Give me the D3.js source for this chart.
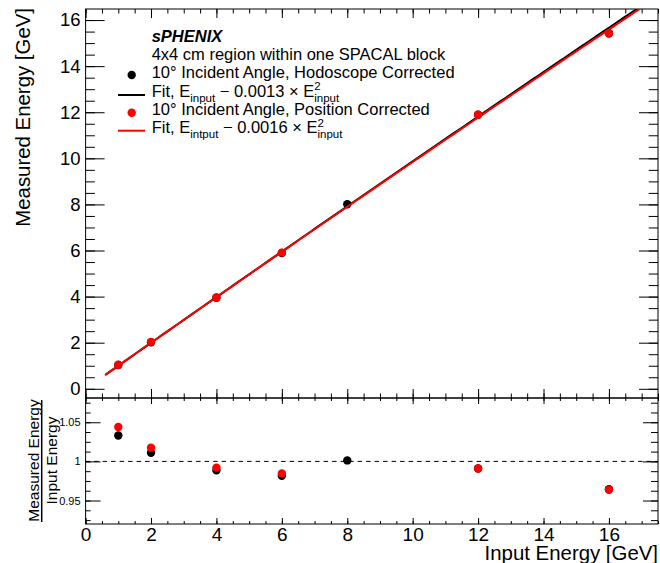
<!DOCTYPE html>
<html>
<head>
<meta charset="utf-8">
<script src="https://cdn.jsdelivr.net/npm/d3@7"></script>
<style>
  html, body { margin: 0; padding: 0; background: #fff; }
  svg { display: block; font-family: "Liberation Sans", Arial, Helvetica, sans-serif; }
  .axis .domain { display: none; }
  .axis line { stroke: #000; stroke-width: 1; }
  .legend text { white-space: pre; }
</style>
</head>
<body>
<svg id="chart" width="660" height="563"></svg>
<script>
// Beam energies and reconstructed energies (GeV)
const inputEnergyHodo = [1, 2, 4, 6, 8, 12, 16];
const measuredHodo    = [1.033, 2.022, 3.954, 5.890, 8.010, 11.89, 15.43];
const inputEnergyPos  = [1, 2, 4, 6, 12, 16];
const measuredPos     = [1.044, 2.035, 3.968, 5.908, 11.89, 15.42];

// Fit: E_input + c * E_input^2
const fitQuadHodo = -0.0013;
const fitQuadPos  = -0.0016;
const fitRange = [0.6, 17.5];

// Axis ticks
const xMajorTicks = [0, 2, 4, 6, 8, 10, 12, 14, 16];
const yMajorTicks = [0, 2, 4, 6, 8, 10, 12, 14, 16];
const ratioMajorTicks = [0.95, 1, 1.05];
const ratioTickLabels = ["0.95", "1", "1.05"];

const colHodo = "#000000";
const colPos  = "#ff0000";

const svg = d3.select("#chart");

// Frames
const L = 85.6, R = 658, T = 9, MID = 398, B = 524;

const x = d3.scaleLinear().domain([0, 17.5]).range([L, R]);
const y = d3.scaleLinear().domain([-0.4, 16.48]).range([MID, T]);
const yr = d3.scaleLinear().domain([0.92, 1.081]).range([B, MID]);

const xMinor = d3.range(0, 17.5 + 1e-9, 0.5);
const yMinor = d3.range(0, 16.48, 0.5);
const rMinor = d3.range(0.925, 1.081, 0.0125);

function axisGroup(axis, tx, ty, labelSize) {
  const g = svg.append("g").attr("class", "axis")
    .attr("transform", `translate(${tx},${ty})`).call(axis);
  g.selectAll("text").attr("font-size", labelSize || 0).attr("fill", "#000")
    .attr("font-family", "Liberation Sans, Arial, sans-serif");
  return g;
}

// ---- Upper panel axes ----
axisGroup(d3.axisLeft(y).tickValues(yMinor).tickSize(-9.3).tickFormat(""), L, 0);
axisGroup(d3.axisLeft(y).tickValues(yMajorTicks).tickSize(-19).tickPadding(5).tickFormat(d3.format("d")), L, 0, 18.5);
axisGroup(d3.axisRight(y).tickValues(yMinor).tickSize(-9.3).tickFormat(""), R, 0);
axisGroup(d3.axisRight(y).tickValues(yMajorTicks).tickSize(-19).tickFormat(""), R, 0);
axisGroup(d3.axisTop(x).tickValues(xMinor).tickSize(-4.5).tickFormat(""), 0, T);
axisGroup(d3.axisTop(x).tickValues(xMajorTicks).tickSize(-9).tickFormat(""), 0, T);
axisGroup(d3.axisBottom(x).tickValues(xMinor).tickSize(-4.5).tickFormat(""), 0, MID);
axisGroup(d3.axisBottom(x).tickValues(xMajorTicks).tickSize(-9).tickFormat(""), 0, MID);

// ---- Lower panel axes ----
axisGroup(d3.axisLeft(yr).tickValues(rMinor).tickSize(-5).tickFormat(""), L, 0);
axisGroup(d3.axisLeft(yr).tickValues(ratioMajorTicks).tickSize(-15).tickPadding(5)
  .tickFormat((d, i) => ratioTickLabels[i]), L, 0, 11);
axisGroup(d3.axisRight(yr).tickValues(rMinor).tickSize(-7).tickFormat(""), R, 0);
axisGroup(d3.axisRight(yr).tickValues(ratioMajorTicks).tickSize(-15).tickFormat(""), R, 0);
axisGroup(d3.axisTop(x).tickValues(xMinor).tickSize(-3).tickFormat(""), 0, MID);
axisGroup(d3.axisTop(x).tickValues(xMajorTicks).tickSize(-6).tickFormat(""), 0, MID);
axisGroup(d3.axisBottom(x).tickValues(xMinor).tickSize(-3).tickFormat(""), 0, B);
axisGroup(d3.axisBottom(x).tickValues(xMajorTicks).tickSize(-6).tickPadding(4).tickFormat(d3.format("d")), 0, B, 19);

// Frames
svg.append("rect").attr("x", L).attr("y", T).attr("width", R - L).attr("height", MID - T)
  .attr("fill", "none").attr("stroke", "#000").attr("stroke-width", 1);
svg.append("rect").attr("x", L).attr("y", MID).attr("width", R - L).attr("height", B - MID)
  .attr("fill", "none").attr("stroke", "#000").attr("stroke-width", 1);

// Clip for plotted curves
svg.append("clipPath").attr("id", "clipTop").append("rect")
  .attr("x", L).attr("y", T).attr("width", R - L).attr("height", MID - T);

const plotTop = svg.append("g").attr("clip-path", "url(#clipTop)");

function fitCurve(c) {
  const pts = d3.range(fitRange[0], fitRange[1] + 1e-9, 0.1).map(e => [e, e + c * e * e]);
  return d3.line().x(d => x(d[0])).y(d => y(d[1]))(pts);
}

// Hodoscope-corrected set
plotTop.selectAll("circle.hodo").data(inputEnergyHodo).join("circle")
  .attr("cx", d => x(d)).attr("cy", (d, i) => y(measuredHodo[i])).attr("r", 4.2).attr("fill", colHodo);
plotTop.append("path").attr("d", fitCurve(fitQuadHodo))
  .attr("fill", "none").attr("stroke", colHodo).attr("stroke-width", 2);

// Position-corrected set
plotTop.selectAll("circle.pos").data(inputEnergyPos).join("circle")
  .attr("cx", d => x(d)).attr("cy", (d, i) => y(measuredPos[i])).attr("r", 4.2).attr("fill", colPos);
plotTop.append("path").attr("d", fitCurve(fitQuadPos))
  .attr("fill", "none").attr("stroke", colPos).attr("stroke-width", 2);

// ---- Ratio panel ----
svg.append("line").attr("x1", L).attr("x2", R).attr("y1", yr(1)).attr("y2", yr(1))
  .attr("stroke", "#000").attr("stroke-width", 1).attr("stroke-dasharray", "4.5,4");

svg.append("g").selectAll("circle").data(inputEnergyHodo).join("circle")
  .attr("cx", d => x(d)).attr("cy", (d, i) => yr(measuredHodo[i] / d)).attr("r", 4.2).attr("fill", colHodo);
svg.append("g").selectAll("circle").data(inputEnergyPos).join("circle")
  .attr("cx", d => x(d)).attr("cy", (d, i) => yr(measuredPos[i] / d)).attr("r", 4.2).attr("fill", colPos);

// ---- Axis titles ----
svg.append("text").attr("transform", "translate(29.5,8) rotate(-90)")
  .attr("text-anchor", "end").attr("font-size", 20.4).text("Measured Energy [GeV]");
svg.append("text").attr("x", 658).attr("y", 560)
  .attr("text-anchor", "end").attr("font-size", 20.4).text("Input Energy [GeV]");

// Ratio title as a fraction
const ratioMid = (B + MID) / 2 - 0.5;
svg.append("text").attr("transform", `translate(38.5,${ratioMid}) rotate(-90)`)
  .attr("text-anchor", "middle").attr("font-size", 15.5).text("Measured Energy");
svg.append("line").attr("x1", 41.7).attr("x2", 41.7).attr("y1", 400).attr("y2", 522)
  .attr("stroke", "#000").attr("stroke-width", 1.5);
svg.append("text").attr("transform", `translate(57,${ratioMid}) rotate(-90)`)
  .attr("text-anchor", "middle").attr("font-size", 15.5).text("Input Energy");

// ---- Legend ----
const legend = svg.append("g").attr("class", "legend");
const LX = 151.7, FS = 16.5, SS = 11.5;

// Draws a run of text pieces; pieces marked stack share one x position
function richText(xs, ys, parts) {
  let cx = xs;
  let stackStart = null, stackWidth = 0;
  parts.forEach(p => {
    const t = legend.append("text")
      .attr("x", stackStart !== null ? stackStart : cx)
      .attr("y", ys + (p.dy || 0))
      .attr("font-size", p.size || FS)
      .attr("font-weight", p.bold ? "bold" : null)
      .attr("font-style", p.italic ? "italic" : null)
      .text(p.t);
    const w = t.node().getComputedTextLength();
    if (p.stack === "start") { stackStart = cx; stackWidth = w; }
    else if (p.stack === "end") { stackWidth = Math.max(stackWidth, w); cx = stackStart + stackWidth; stackStart = null; }
    else { cx += w; }
  });
}

richText(LX, 41.7, [{ t: "sPHENIX", bold: true, italic: true }]);
richText(LX, 59.5, [{ t: "4x4 cm region within one SPACAL block" }]);
richText(LX, 78, [{ t: "10° Incident Angle, Hodoscope Corrected" }]);
richText(LX, 96.5, [
  { t: "Fit, E" }, { t: "input", size: SS, dy: 5 }, { t: " \u2212 0.0013 \u00d7 E" },
  { t: "2", size: SS, dy: -6.5, stack: "start" }, { t: "input", size: SS, dy: 5, stack: "end" }
]);
richText(LX, 115, [{ t: "10° Incident Angle, Position Corrected" }]);
richText(LX, 133.3, [
  { t: "Fit, E" }, { t: "intput", size: SS, dy: 5 }, { t: " \u2212 0.0016 \u00d7 E" },
  { t: "2", size: SS, dy: -6.5, stack: "start" }, { t: "input", size: SS, dy: 5, stack: "end" }
]);

legend.append("circle").attr("cx", 131.7).attr("cy", 75).attr("r", 4.2).attr("fill", colHodo);
legend.append("line").attr("x1", 118).attr("x2", 145).attr("y1", 95).attr("y2", 95)
  .attr("stroke", colHodo).attr("stroke-width", 2);
legend.append("circle").attr("cx", 131.7).attr("cy", 112.7).attr("r", 4.2).attr("fill", colPos);
legend.append("line").attr("x1", 118).attr("x2", 145).attr("y1", 130.7).attr("y2", 130.7)
  .attr("stroke", colPos).attr("stroke-width", 2);
</script>
</body>
</html>
